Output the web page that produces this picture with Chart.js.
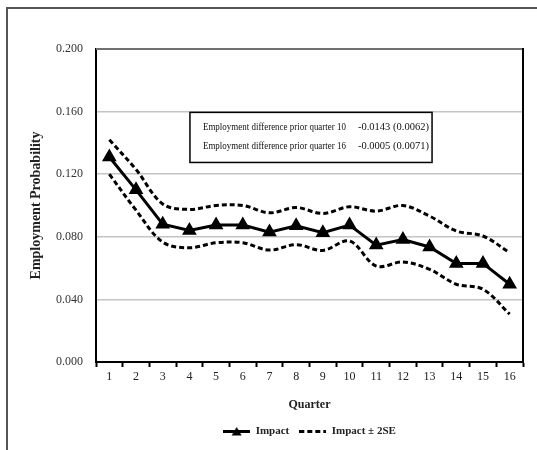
<!DOCTYPE html>
<html>
<head>
<meta charset="utf-8">
<script src="https://cdn.jsdelivr.net/npm/chart.js@4"></script>
<style>
  html, body { margin: 0; padding: 0; background: #fff; }
  #wrap { position: relative; width: 537px; height: 450px; }
  #frame { position: absolute; left: 6px; top: 7px; width: 540px; height: 460px;
           border-left: 2px solid #555; border-top: 2px solid #555; pointer-events: none; }
  canvas { position: absolute; left: 0; top: 0; }
</style>
</head>
<body>
<div id="wrap">
  <canvas id="c" width="537" height="450"></canvas>
  <div id="frame"></div>
</div>
<script>
// ---- data ----
const quarters = ['1','2','3','4','5','6','7','8','9','10','11','12','13','14','15','16'];
const impact = [0.131, 0.110, 0.088, 0.084, 0.0875, 0.0875, 0.083, 0.087, 0.0826, 0.0875, 0.0747, 0.0783, 0.0735, 0.063, 0.063, 0.0497];
const upper  = [0.142, 0.123, 0.101, 0.0975, 0.100, 0.100, 0.0953, 0.0987, 0.0949, 0.0992, 0.0964, 0.100, 0.0932, 0.0837, 0.0805, 0.0699];
const lower  = [0.120, 0.097, 0.0766, 0.073, 0.0762, 0.0762, 0.0715, 0.075, 0.0713, 0.0773, 0.0613, 0.0639, 0.0592, 0.0497, 0.0465, 0.0306];
const yTicks = [0.000, 0.040, 0.080, 0.120, 0.160, 0.200];
const seriesNames = ['Impact', 'Impact \u00b1 2SE'];
const noteLabels = ['Employment difference prior quarter 10', 'Employment difference prior quarter 16'];
const noteValues = ['-0.0143 (0.0062)', '-0.0005 (0.0071)'];
const axisTitles = { x: 'Quarter', y: 'Employment Probability' };

const SERIF = '"Liberation Serif", "DejaVu Serif", serif';

// legend sample images
function makeSample(kind) {
  const cv = document.createElement('canvas');
  cv.width = 27; cv.height = 11;
  const g = cv.getContext('2d');
  g.strokeStyle = '#000'; g.fillStyle = '#000'; g.lineWidth = 3;
  if (kind === 'impact') {
    g.beginPath(); g.moveTo(0, 5.5); g.lineTo(27, 5.5); g.stroke();
    g.beginPath(); g.moveTo(13.5, 1); g.lineTo(18.5, 9.5); g.lineTo(8.5, 9.5); g.closePath(); g.fill();
  } else {
    g.setLineDash([5, 3]);
    g.beginPath(); g.moveTo(0, 5.5); g.lineTo(27, 5.5); g.stroke();
  }
  return cv;
}
const sampleImpact = makeSample('impact');
const sampleSE = makeSample('se');

const framePlugin = {
  id: 'framePlugin',
  afterDatasetsDraw(chart) {
    const { ctx, chartArea: a } = chart;
    ctx.save();
    ctx.lineWidth = 2;
    ctx.strokeStyle = '#707070';
    ctx.beginPath(); ctx.moveTo(a.left, a.top); ctx.lineTo(a.right, a.top); ctx.stroke();
    ctx.strokeStyle = '#000';
    ctx.beginPath(); ctx.moveTo(a.right, a.top - 1); ctx.lineTo(a.right, a.bottom + 1); ctx.stroke();
    ctx.restore();
  }
};

const notePlugin = {
  id: 'notePlugin',
  afterDraw(chart) {
    const { ctx, chartArea: a, scales } = chart;
    const y = scales.y;
    const left = a.left + 0.220 * (a.right - a.left);
    const right = a.left + 0.787 * (a.right - a.left);
    const top = y.getPixelForValue(0.1595);
    const bottom = y.getPixelForValue(0.1275);
    ctx.save();
    ctx.fillStyle = '#fff';
    ctx.fillRect(left, top, right - left, bottom - top);
    ctx.lineWidth = 1.5;
    ctx.strokeStyle = '#000';
    ctx.strokeRect(left, top, right - left, bottom - top);
    ctx.fillStyle = '#111';
    ctx.font = '11px ' + SERIF;
    ctx.textBaseline = 'middle';
    const h = bottom - top;
    for (let i = 0; i < noteLabels.length; i++) {
      const ty = top + h * (0.30 + 0.38 * i);
      ctx.fillText(noteLabels[i], left + 13, ty, 143);
      ctx.fillText(noteValues[i], left + 168, ty, 71);
    }
    ctx.restore();
  }
};

new Chart(document.getElementById('c'), {
  type: 'line',
  data: {
    labels: quarters,
    datasets: [
      { label: seriesNames[0], data: impact, borderColor: '#000', backgroundColor: '#000',
        borderWidth: 3, pointStyle: 'triangle', pointRadius: 5.5, pointHoverRadius: 5.5,
        tension: 0, order: 0 },
      { label: seriesNames[1], data: upper, borderColor: '#000', backgroundColor: '#000',
        borderWidth: 3, borderDash: [5, 3], pointRadius: 0, tension: 0.35, order: 1 },
      { label: seriesNames[1] + ' lower', data: lower, borderColor: '#000', backgroundColor: '#000',
        borderWidth: 3, borderDash: [5, 3], pointRadius: 0, tension: 0.35, order: 1 }
    ]
  },
  options: {
    responsive: false,
    animation: false,
    devicePixelRatio: 1,
    layout: { padding: { top: 49, right: 14, bottom: 3, left: 0 } },
    scales: {
      x: {
        offset: true,
        grid: { offset: true, drawOnChartArea: false, drawTicks: true, tickLength: 5,
                tickColor: '#000', tickWidth: 2 },
        border: { display: true, color: '#000', width: 2 },
        ticks: { font: { family: SERIF, size: 12 }, color: '#222', padding: 3, maxRotation: 0 },
        title: { display: true, text: axisTitles.x, font: { family: SERIF, size: 12, weight: 'bold' },
                 color: '#222', padding: { top: 0, bottom: 4 } },
        afterFit(s) { s.height = 54; }
      },
      y: {
        min: 0, max: 0.2,
        afterBuildTicks(s) { s.ticks = yTicks.map(v => ({ value: v })); },
        grid: { color: '#c4c4c4', lineWidth: 1.5, drawTicks: false },
        border: { display: true, color: '#000', width: 2 },
        ticks: { font: { family: SERIF, size: 12 }, color: '#333', padding: 13,
                 callback: v => Number(v).toFixed(3) },
        title: { display: true, text: axisTitles.y, font: { family: SERIF, size: 14, weight: 'bold' },
                 color: '#222', padding: { top: 27.5, bottom: 0 } },
        afterFit(s) { s.width = 96; }
      }
    },
    plugins: {
      tooltip: { enabled: false },
      legend: {
        position: 'bottom',
        fullSize: false,
        labels: {
          usePointStyle: true,
          pointStyleWidth: 27,
          boxHeight: 10,
          padding: 10,
          font: { family: SERIF, size: 11, weight: 'bold' },
          color: '#222',
          generateLabels(chart) {
            return [
              { text: seriesNames[0], datasetIndex: 0, pointStyle: sampleImpact, fillStyle: '#000',
                strokeStyle: '#000', lineWidth: 0, hidden: false, fontColor: '#222' },
              { text: seriesNames[1], datasetIndex: 1, pointStyle: sampleSE, fillStyle: '#000',
                strokeStyle: '#000', lineWidth: 0, hidden: false, fontColor: '#222' }
            ];
          }
        }
      }
    }
  },
  plugins: [framePlugin, notePlugin]
});
</script>
</body>
</html>
